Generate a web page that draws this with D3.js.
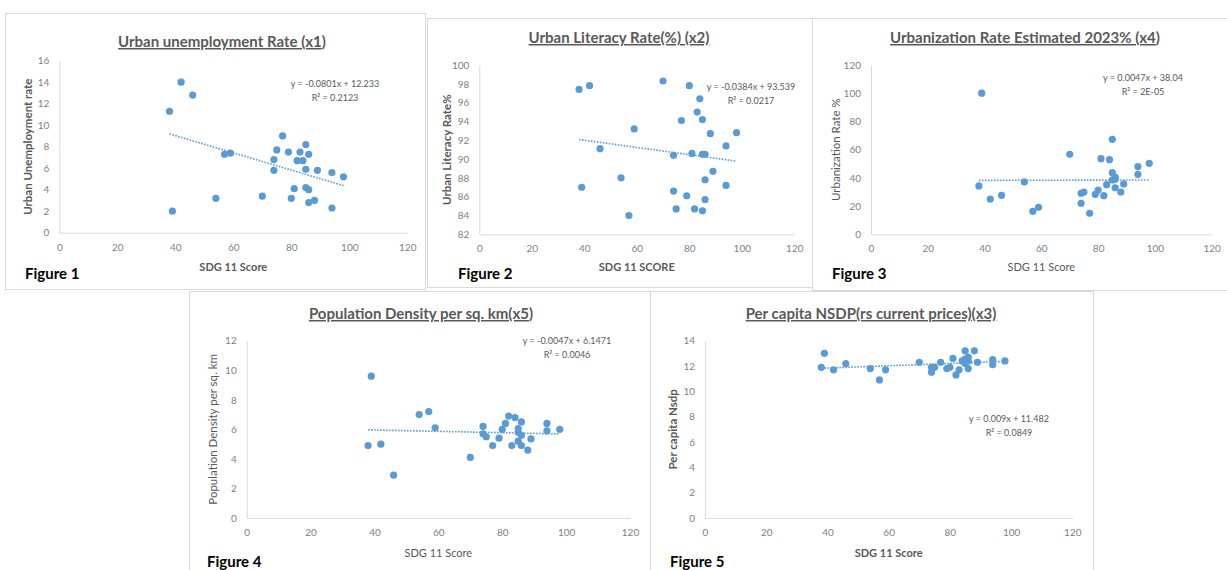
<!DOCTYPE html>
<html>
<head>
<meta charset="utf-8">
<script src="https://cdn.jsdelivr.net/npm/d3@7"></script>
<style>
  body { margin: 0; background: #fff; }
  svg { display: block; font-family: Lato, "Open Sans", sans-serif; }
</style>
</head>
<body>
<svg width="1227" height="570"></svg>
<script>
// SDG 11 score of each state (shared x values)
const sdgScore = [38, 39, 42, 46, 54, 57, 59, 70, 74, 74, 75, 77, 79, 80, 81, 82, 83, 84, 85, 85, 85, 86, 86, 86, 88, 89, 94, 94, 98];

const unemployment = [11.3, 2.0, 14.0, 12.8, 3.2, 7.3, 7.4, 3.4, 6.8, 5.8, 7.7, 9.0, 7.5, 3.2, 4.1, 6.7, 7.5, 6.7, 8.2, 5.9, 4.2, 7.3, 4.0, 2.8, 3.0, 5.8, 5.6, 2.3, 5.2];
const literacy = [97.4, 87.0, 97.8, 91.1, 88.0, 84.0, 93.2, 98.3, 90.4, 86.6, 84.7, 94.1, 86.1, 97.8, 90.6, 84.7, 95.0, 96.4, 94.2, 90.5, 84.5, 90.5, 87.8, 85.7, 92.7, 88.7, 91.4, 87.2, 92.8];
const urbanization = [34.3, 100, 25.0, 27.6, 37.1, 16.3, 19.1, 56.7, 22.0, 29.1, 30.0, 14.9, 28.3, 31.4, 53.6, 27.4, 35.2, 52.9, 67.3, 43.7, 38.5, 40.5, 39.0, 33.0, 30.0, 35.7, 48.0, 42.5, 50.3];
const popDensity = [4.9, 9.6, 5.0, 2.9, 7.0, 7.2, 6.1, 4.1, 6.2, 5.7, 5.5, 4.9, 5.4, 6.0, 6.4, 6.9, 4.9, 6.8, 6.05, 5.8, 5.2, 6.5, 5.6, 4.9, 4.6, 5.35, 6.4, 5.9, 6.0];
const nsdp = [11.9, 13.0, 11.7, 12.2, 11.8, 10.9, 11.7, 12.3, 11.5, 11.9, 11.9, 12.3, 11.8, 11.9, 12.6, 11.3, 11.7, 12.4, 13.2, 12.55, 12.2, 12.7, 12.4, 11.8, 13.2, 12.3, 12.5, 12.1, 12.4];

const xTicks = [0, 20, 40, 60, 80, 100, 120];
const yTicks1 = [0, 2, 4, 6, 8, 10, 12, 14, 16];
const yTicks2 = [82, 84, 86, 88, 90, 92, 94, 96, 98, 100];
const yTicks3 = [0, 20, 40, 60, 80, 100, 120];
const yTicks4 = [0, 2, 4, 6, 8, 10, 12];
const yTicks5 = [0, 2, 4, 6, 8, 10, 12, 14];

const chartTitles = ["Urban unemployment Rate (x1)", "Urban Literacy Rate(%) (x2)", "Urbanization Rate Estimated 2023% (x4)", "Population Density per sq. km(x5)", "Per capita NSDP(rs current prices)(x3)"];
const yTitles = ["Urban Unemployment rate", "Urban Literacy Rate%", "Urbanization Rate %", "Population Density per sq. km", "Per capita Nsdp"];
const xTitles = ["SDG 11 Score", "SDG 11 SCORE", "SDG 11 Score", "SDG 11 Score", "SDG 11 Score"];
const figureLabels = ["Figure 1", "Figure 2", "Figure 3", "Figure 4", "Figure 5"];
const trendSlope = [-0.0801, -0.0384, 0.0047, -0.0047, 0.009];
const trendIntercept = [12.233, 93.539, 38.04, 6.1471, 11.482];
const eqLabels = ["y = -0.0801x + 12.233", "y = -0.0384x + 93.539", "y = 0.0047x + 38.04", "y = -0.0047x + 6.1471", "y = 0.009x + 11.482"];
const r2Labels = ["R² = 0.2123", "R² = 0.0217", "R² = 2E-05", "R² = 0.0046", "R² = 0.0849"];

const blue = "#5b9bd5";
const svg = d3.select("svg");

// layout of each panel (pixel positions)
const panels = [
  { box: [5, 13, 420, 276], x: [59.3, 407.3], y: [232.7, 60.7], yDom: [0, 16], yTicks: yTicks1, values: unemployment,
    titleX: 222, titleY: 47, underlineAll: false, yTitleX: 28, boldAxis: true, xTitleY: 271, figX: 25, figY: 279, eqX: 335, eqY: 87 },
  { box: [427, 18, 385, 269], x: [479.3, 794.3], y: [234.3, 65], yDom: [82, 100], yTicks: yTicks2, values: literacy,
    titleX: 619, titleY: 43, underlineAll: true, yTitleX: 447, boldAxis: true, xTitleY: 271, figX: 458, figY: 279, eqX: 751, eqY: 90 },
  { box: [812, 18, 420, 272], x: [871, 1211.7], y: [234.3, 65], yDom: [0, 120], yTicks: yTicks3, values: urbanization,
    titleX: 1025, titleY: 43, underlineAll: false, yTitleX: 836, boldAxis: false, xTitleY: 271, figX: 832, figY: 279, eqX: 1143, eqY: 81 },
  { box: [189, 291, 461, 290], x: [246.7, 630], y: [518, 340.7], yDom: [0, 12], yTicks: yTicks4, values: popDensity,
    titleX: 421, titleY: 319, underlineAll: false, yTitleX: 213, boldAxis: false, xTitleY: 557, figX: 207, figY: 567, eqX: 567, eqY: 344 },
  { box: [650, 291, 443, 290], x: [705, 1072.3], y: [518, 340.7], yDom: [0, 14], yTicks: yTicks5, values: nsdp,
    titleX: 871, titleY: 319, underlineAll: true, yTitleX: 673, boldAxis: true, xTitleY: 557, figX: 670, figY: 567, eqX: 1009, eqY: 422 }
];

panels.forEach(function (p, i) {
  let g = svg.append("g");

  g.append("rect")
    .attr("x", p.box[0] + 0.5).attr("y", p.box[1] + 0.5)
    .attr("width", p.box[2]).attr("height", p.box[3])
    .attr("fill", "none").attr("stroke", "#d9d9d9");

  let xScale = d3.scaleLinear().domain([0, 120]).range(p.x);
  let yScale = d3.scaleLinear().domain(p.yDom).range(p.y);

  // axes
  let xAxis = g.append("g")
    .attr("transform", "translate(0," + p.y[0] + ")")
    .call(d3.axisBottom(xScale).tickValues(xTicks).tickSize(0).tickPadding(11));
  let yAxis = g.append("g")
    .attr("transform", "translate(" + p.x[0] + ",0)")
    .call(d3.axisLeft(yScale).tickValues(p.yTicks).tickSize(0).tickPadding(10));
  [xAxis, yAxis].forEach(function (a) {
    a.select(".domain").attr("stroke", "#d9d9d9");
    a.selectAll("text").attr("fill", "#7f7f7f").style("font-size", "10px").style("font-family", "Lato, sans-serif");
  });

  // title, last ")" not underlined on some charts
  let t = chartTitles[i];
  let title = g.append("text")
    .attr("x", p.titleX).attr("y", p.titleY)
    .attr("text-anchor", "middle")
    .attr("fill", "#595959")
    .style("font-size", "15px").style("font-weight", "bold");
  if (p.underlineAll) {
    title.append("tspan").style("text-decoration", "underline").text(t);
  } else {
    title.append("tspan").style("text-decoration", "underline").text(t.slice(0, -1));
    title.append("tspan").text(t.slice(-1));
  }

  // axis titles
  g.append("text")
    .attr("x", (p.x[0] + p.x[1]) / 2).attr("y", p.xTitleY)
    .attr("text-anchor", "middle")
    .attr("fill", "#595959")
    .style("font-size", "11px").style("font-weight", p.boldAxis ? "bold" : "normal")
    .text(xTitles[i]);
  g.append("text")
    .attr("transform", "translate(" + p.yTitleX + "," + (p.y[0] + p.y[1]) / 2 + ") rotate(-90)")
    .attr("text-anchor", "middle").attr("dy", "0.35em")
    .attr("fill", "#595959")
    .style("font-size", "11.5px").style("font-weight", p.boldAxis ? "bold" : "normal")
    .text(yTitles[i]);

  // trendline from the equation
  let xMin = d3.min(sdgScore), xMax = d3.max(sdgScore);
  g.append("line")
    .attr("x1", xScale(xMin)).attr("y1", yScale(trendSlope[i] * xMin + trendIntercept[i]))
    .attr("x2", xScale(xMax)).attr("y2", yScale(trendSlope[i] * xMax + trendIntercept[i]))
    .attr("stroke", blue).attr("stroke-width", 1.6)
    .attr("stroke-dasharray", "1.6,1.4");

  // points
  g.selectAll(".dot")
    .data(p.values)
    .enter().append("circle")
    .attr("class", "dot")
    .attr("cx", function (d, j) { return xScale(sdgScore[j]); })
    .attr("cy", function (d) { return yScale(d); })
    .attr("r", 3.6)
    .attr("fill", blue);

  // equation labels
  g.append("text")
    .attr("x", p.eqX).attr("y", p.eqY)
    .attr("text-anchor", "middle").attr("fill", "#595959")
    .style("font-size", "9px")
    .text(eqLabels[i]);
  g.append("text")
    .attr("x", p.eqX).attr("y", p.eqY + 13.5)
    .attr("text-anchor", "middle").attr("fill", "#595959")
    .style("font-size", "9px")
    .text(r2Labels[i]);

  // figure label
  g.append("text")
    .attr("x", p.figX).attr("y", p.figY)
    .attr("fill", "#000")
    .style("font-size", "15px").style("font-weight", "bold")
    .text(figureLabels[i]);
});
</script>
</body>
</html>
